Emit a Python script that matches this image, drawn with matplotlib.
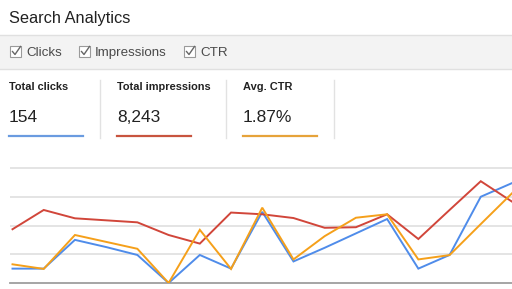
import matplotlib
matplotlib.use("Agg")
import matplotlib.pyplot as plt
from matplotlib.patches import Rectangle
from matplotlib.lines import Line2D

# ---- data ----
days = list(range(17))
clicks = [1.0, 1.0, 3.0, 2.5, 1.95, 0.0, 1.95, 1.0, 4.95, 1.5, 2.45, 3.45, 4.45, 1.0, 1.95, 6.0, 6.95]
impressions = [374, 508, 450, 436, 422, 334, 274, 490, 478, 452, 384, 388, 478, 306, 508, 708, 566]
ctr = [0.65, 0.49, 1.67, 1.43, 1.19, 0.0, 1.85, 0.49, 2.62, 0.82, 1.63, 2.27, 2.39, 0.82, 0.97, 2.05, 3.12]

title = "Search Analytics"
check_labels = ["Clicks", "Impressions", "CTR"]
card_labels = ["Total clicks", "Total impressions", "Avg. CTR"]
card_values = ["154", "8,243", "1.87%"]

BLUE = "#4f8cea"
RED = "#d1463a"
ORANGE = "#f5a01a"
UL_COLORS = ["#6a9be0", "#c8543f", "#e6a33a"]

W, H = 512, 289
fig = plt.figure(figsize=(W / 100, H / 100), dpi=100)
fig.patch.set_facecolor("white")
FONT = "Liberation Sans"


def fx(px):
    return px / W


def fy(py):
    return 1 - py / H


# title
fig.text(fx(9), fy(18.5), title, fontsize=11.8, color="#222222", family=FONT,
         va="center", ha="left")

# gray toolbar
fig.patches.append(Rectangle((0, fy(69)), 1, fy(35) - fy(69), transform=fig.transFigure,
                             facecolor="#f3f3f3", edgecolor="none", zorder=0))
for yy in (35, 69):
    fig.add_artist(Line2D([0, 1], [fy(yy), fy(yy)], transform=fig.transFigure,
                          color="#e0e0e0", lw=1.0))

box_x = [10, 79, 184]
text_x = [26, 95, 200]
for bx, tx, lab in zip(box_x, text_x, check_labels):
    fig.patches.append(Rectangle((fx(bx), fy(57)), fx(11), fy(46) - fy(57),
                                 transform=fig.transFigure, facecolor="white",
                                 edgecolor="#9a9a9a", lw=0.8, zorder=2))
    fig.add_artist(Line2D([fx(bx + 2.5), fx(bx + 5), fx(bx + 10.5)],
                          [fy(51.5), fy(54.5), fy(46.5)], transform=fig.transFigure,
                          color="#666666", lw=1.0, zorder=3))
    fig.text(fx(tx), fy(53), lab, fontsize=9.6, color="#4a4a4a", family=FONT,
             va="center", ha="left")

# summary cards
card_x = [9, 117, 243]
for i, (cx, lab, val) in enumerate(zip(card_x, card_labels, card_values)):
    fig.text(fx(cx), fy(86.5), lab, fontsize=7.9, fontweight="bold", color="#222222",
             family=FONT, va="center", ha="left")
    fig.text(fx(cx), fy(117.5), val, fontsize=12.5, color="#222222",
             family=FONT, va="center", ha="left")
    fig.add_artist(Line2D([fx(cx), fx(cx + 74)], [fy(136), fy(136)],
                          transform=fig.transFigure, color=UL_COLORS[i], lw=1.6))
for sx in (100, 226, 334):
    fig.add_artist(Line2D([fx(sx), fx(sx)], [fy(80), fy(138)],
                          transform=fig.transFigure, color="#e2e2e2", lw=1.0))

# chart
left, right, bottom, top = 10, 512, 283, 150
rect = [fx(left), fy(bottom), fx(right) - fx(left), fy(top) - fy(bottom)]
grid_px = 28.75
ntop = (bottom - top) / grid_px

ax = fig.add_axes(rect)
ax_imp = ax.twinx()
ax_ctr = ax.twinx()

ax.set_facecolor("none")
ax.set_xlim(-0.08, 16)
ax.set_ylim(0, 2 * ntop)
ax.set_yticks([2, 4, 6, 8])
ax.grid(axis="y", color="#dcdcdc", lw=1.1)
ax.set_axisbelow(True)
for s in ["top", "right", "left"]:
    ax.spines[s].set_visible(False)
ax.spines["bottom"].set_color("#9e9e9e")
ax.spines["bottom"].set_linewidth(1.3)
ax.tick_params(axis="both", which="both", left=False, right=False, bottom=False,
               top=False, labelleft=False, labelright=False, labelbottom=False)

ax_imp.set_ylim(0, 200 * ntop)
ax_ctr.set_ylim(0, ntop)
for a in (ax_imp, ax_ctr):
    a.set_xlim(-0.08, 16)
    a.axis("off")

ax_imp.plot(days, impressions, color=RED, lw=1.4, solid_joinstyle="miter")
ax.plot(days, clicks, color=BLUE, lw=1.4, zorder=3, solid_joinstyle="miter")
ax_ctr.plot(days, ctr, color=ORANGE, lw=1.4, solid_joinstyle="miter")

fig.savefig("out.png", dpi=100, facecolor="white")
